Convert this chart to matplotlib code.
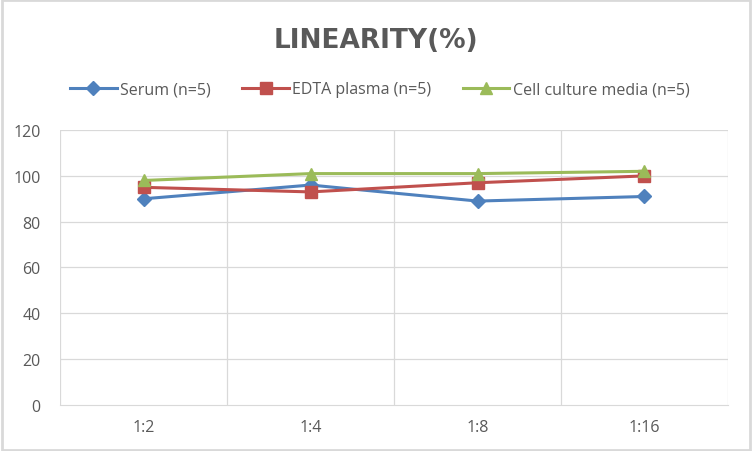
import matplotlib
matplotlib.use("Agg")
import matplotlib.pyplot as plt
from matplotlib.patches import Rectangle

# ── data ──
dilutions = ["1:2", "1:4", "1:8", "1:16"]
serum = [90, 96, 89, 91]
edta_plasma = [95, 93, 97, 100]
cell_media = [98, 101, 101, 102]

series = [
    ("Serum (n=5)", serum, "#4F81BD", "D"),
    ("EDTA plasma (n=5)", edta_plasma, "#C0504D", "s"),
    ("Cell culture media (n=5)", cell_media, "#9BBB59", "^"),
]

plt.rcParams["font.family"] = ["Open Sans", "DejaVu Sans"]

fig = plt.figure(figsize=(7.52, 4.52), dpi=100)
ax = fig.add_axes([0.080, 0.102, 0.888, 0.608])

x = list(range(len(dilutions)))
for label, vals, color, marker in series:
    ax.plot(x, vals, color=color, linewidth=2.2, marker=marker,
            markersize=8 if marker != "D" else 7, label=label, zorder=3)

ax.set_xlim(-0.5, len(dilutions) - 0.5)
ax.set_ylim(0, 120)
ax.set_yticks(range(0, 121, 20))
ax.set_xticks(x)
ax.set_xticklabels(dilutions)

# gridlines like Excel: horizontal plus between-category verticals
for yv in range(20, 121, 20):
    ax.axhline(yv, color="#d9d9d9", linewidth=0.9, zorder=0)
for xv in [i - 0.5 for i in range(len(dilutions) + 1)]:
    ax.axvline(xv, color="#d9d9d9", linewidth=0.9, zorder=0)

for side in ["top", "right", "left"]:
    ax.spines[side].set_visible(False)
ax.spines["bottom"].set_color("#d9d9d9")
ax.tick_params(length=0, colors="#595959", labelsize=11.5)
ax.tick_params(axis="x", pad=10)
ax.tick_params(axis="y", pad=14)

fig.text(0.5, 0.91, "LINEARITY(%)", ha="center", va="center",
         fontsize=19, fontweight="bold", color="#595959", family="DejaVu Sans")

fig.legend(loc="center", bbox_to_anchor=(0.505, 0.80), ncol=3, frameon=False,
           fontsize=11.5, handlelength=2.9, columnspacing=2.0, handletextpad=0.2,
           labelcolor="#595959")

fig.patches.append(Rectangle((0.002, 0.003), 0.996, 0.994, transform=fig.transFigure,
                             fill=False, edgecolor="#d9d9d9", linewidth=2))

fig.savefig("out.png", dpi=100)
